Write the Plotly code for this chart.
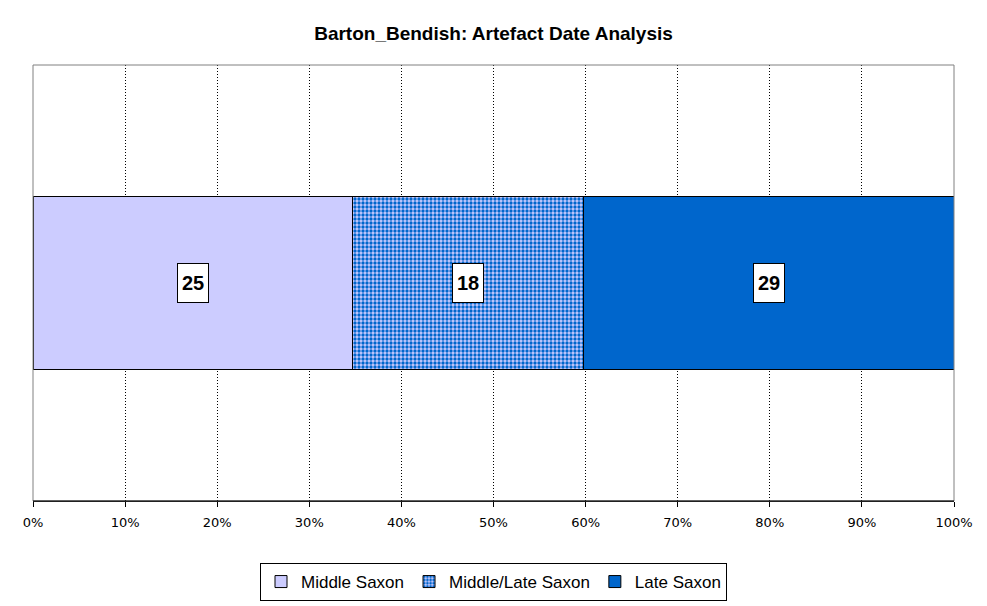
import plotly.graph_objects as go

categories = ["Barton_Bendish"]
series_names = ["Middle Saxon", "Middle/Late Saxon", "Late Saxon"]
series_values = [25, 18, 29]
tick_vals = [0, 10, 20, 30, 40, 50, 60, 70, 80, 90, 100]
tick_text = ["0%", "10%", "20%", "30%", "40%", "50%", "60%", "70%", "80%", "90%", "100%"]

colors = ["#CCCCFF", "#CCCCFF", "#0066CC"]
patterns = [dict(shape=""), dict(shape=".", fgcolor="#0066CC", bgcolor="#CCCCFF", size=4, solidity=0.55, fillmode="replace"), dict(shape="")]

fig = go.Figure()
for name, val, col, pat in zip(series_names, series_values, colors, patterns):
    fig.add_trace(go.Bar(
        y=categories, x=[val], name=name, orientation="h",
        marker=dict(color=col, line=dict(color="black", width=1), pattern=pat),
        width=0.397, hoverinfo="skip",
    ))

total = sum(series_values)
cum = 0
for val in series_values:
    mid = (cum + val / 2) / total * 100
    cum += val
    fig.add_annotation(x=mid, y=categories[0], text=f"<b>{val}</b>", showarrow=False,
                       font=dict(family="Liberation Sans, Arial", size=20, color="black"),
                       width=28, height=36, borderpad=1,
                       bgcolor="white", bordercolor="black", borderwidth=1)

fig.update_layout(
    barmode="stack", barnorm="percent",
    width=987, height=606,
    margin=dict(l=33, r=33, t=65, b=105, autoexpand=False),
    paper_bgcolor="white", plot_bgcolor="white",
    title=dict(text="<b>Barton_Bendish: Artefact Date Analysis</b>", x=0.5, xanchor="center",
               y=1 - 33 / 606, yanchor="middle",
               font=dict(family="Liberation Sans, Arial", size=19, color="black")),
    xaxis=dict(range=[0, 100], tickvals=tick_vals, ticktext=tick_text,
               showgrid=True, gridcolor="black", griddash="1px,2px", gridwidth=1,
               showline=True, linecolor="black", linewidth=1,
               ticks="outside", ticklen=5, tickcolor="black", ticklabelstandoff=4,
               tickfont=dict(family="DejaVu Sans, Tahoma", size=13, color="black"),
               zeroline=False),
    yaxis=dict(showticklabels=False, showgrid=False, zeroline=False, range=[-0.5, 0.5]),
    legend=dict(orientation="h", x=0.5, xanchor="center", xref="container",
                y=(606 - 582) / 606, yanchor="middle", yref="container",
                bordercolor="black", borderwidth=1, bgcolor="white",
                font=dict(family="Liberation Sans, Arial", size=17, color="black"),
                itemwidth=30, traceorder="normal"),
    showlegend=True,
)
fig.add_shape(type="rect", xref="paper", yref="paper", x0=0, x1=1, y0=0, y1=1,
              line=dict(color="#808080", width=1), layer="above")
fig.add_shape(type="line", xref="paper", yref="paper", x0=0, x1=1, y0=0, y1=0,
              line=dict(color="black", width=1), layer="above")

fig.write_html("out.html")
